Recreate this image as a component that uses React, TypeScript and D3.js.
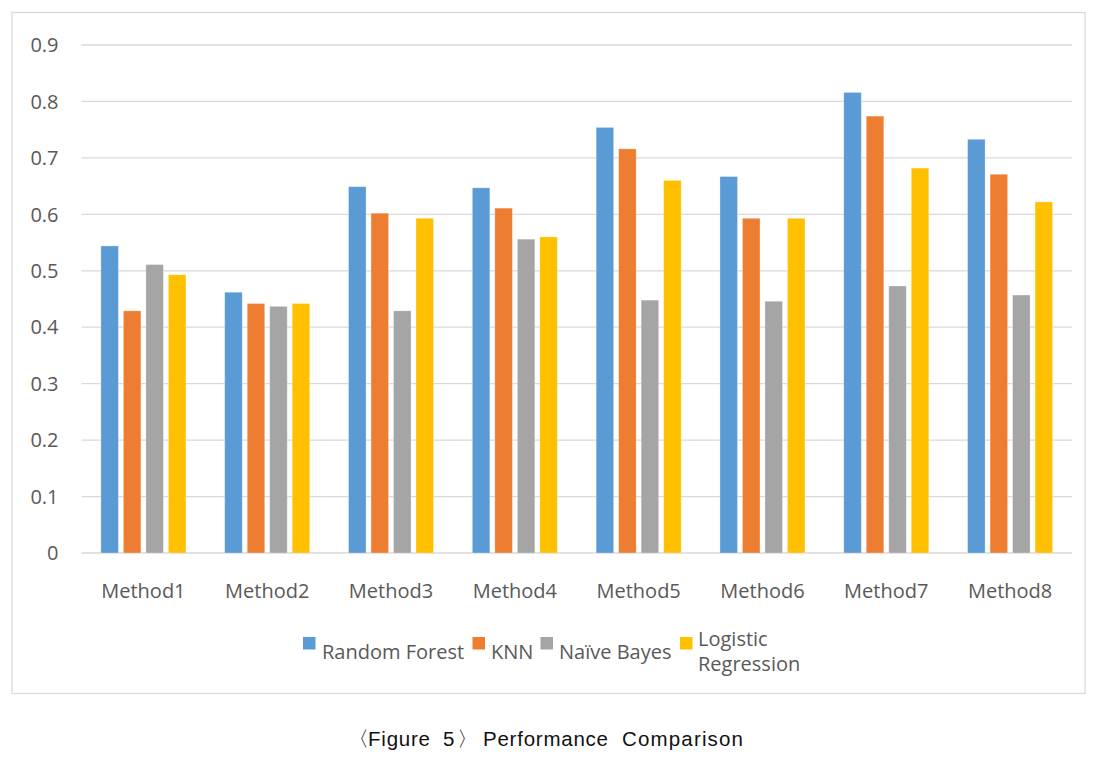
import React from "react";
import * as d3 from "d3";

const categories = ["Method1", "Method2", "Method3", "Method4", "Method5", "Method6", "Method7", "Method8"];
const seriesNames = ["Random Forest", "KNN", "Naïve Bayes", "Logistic Regression"];
const randomForest = [0.544, 0.462, 0.649, 0.647, 0.754, 0.667, 0.816, 0.733];
const knn = [0.429, 0.442, 0.602, 0.611, 0.716, 0.593, 0.774, 0.671];
const naiveBayes = [0.511, 0.437, 0.429, 0.556, 0.448, 0.446, 0.473, 0.457];
const logistic = [0.493, 0.442, 0.593, 0.560, 0.660, 0.593, 0.682, 0.622];
const yTicks = [0, 0.1, 0.2, 0.3, 0.4, 0.5, 0.6, 0.7, 0.8, 0.9];
const colors = ["#5B9BD5", "#ED7D31", "#A5A5A5", "#FFC000"];

const seriesValues = [randomForest, knn, naiveBayes, logistic];

export default function App() {
  const W = 1100, H = 767;
  const left = 81.5, right = 1072, top = 45, bottom = 553;
  const x0 = d3.scaleBand<string>().domain(categories).range([left, right]).paddingInner(0).paddingOuter(0);
  const bw = x0.bandwidth();
  const groupW = 90;
  const x1 = d3.scaleBand<string>().domain(seriesNames).range([(bw - groupW) / 2, (bw + groupW) / 2]).paddingInner(0.222).paddingOuter(0.111);
  const y = d3.scaleLinear().domain([0, 0.9]).range([bottom, top]);
  const font = "'Open Sans', 'Noto Sans', sans-serif";
  const txt = "#595959";
  const capFont = "'Liberation Sans', Arial, sans-serif";

  const legendItems = [
    { sq: 303, tx: 322, lines: ["Random Forest"] },
    { sq: 472.5, tx: 491, lines: ["KNN"] },
    { sq: 540.5, tx: 559, lines: ["Naïve Bayes"] },
    { sq: 680, tx: 698, lines: ["Logistic", "Regression"] },
  ];

  return (
    <svg width={W} height={H} style={{ position: "absolute", left: 0, top: 0, background: "#fff" }}>
      <rect x={0} y={0} width={W} height={H} fill="#fff" />
      <rect x={12} y={12.5} width={1073} height={681} fill="#fff" stroke="#D9D9D9" strokeWidth={1.3} />
      {yTicks.map((t) => (
        <g key={t}>
          <line x1={left} x2={right} y1={y(t)} y2={y(t)} stroke="#D9D9D9" strokeWidth={1.3} />
          <text x={58.5} y={y(t)} dy="0.36em" textAnchor="end" fontFamily={font} fontSize={20} fill={txt}>
            {t === 0 ? "0" : d3.format(".1f")(t)}
          </text>
        </g>
      ))}
      {categories.map((c, i) => (
        <g key={c} transform={`translate(${x0(c)},0)`}>
          {seriesNames.map((s, j) => {
            const v = seriesValues[j][i];
            return (
              <rect key={s} x={x1(s)} y={y(v)} width={x1.bandwidth()} height={y(0) - y(v)} fill={colors[j]} stroke="#fff" strokeOpacity={0.35} strokeWidth={0.8} />
            );
          })}
          <text x={bw / 2} y={597.5} textAnchor="middle" fontFamily={font} fontSize={20} fill={txt}>{c}</text>
        </g>
      ))}
      {legendItems.map((it, j) => (
        <g key={j}>
          <rect x={it.sq} y={637} width={12.5} height={12.5} fill={colors[j]} />
          {it.lines.length === 1 ? (
            <text x={it.tx} y={659} fontFamily={font} fontSize={20} fill={txt}>{seriesNames[j]}</text>
          ) : (
            <text fontFamily={font} fontSize={20} fill={txt}>
              <tspan x={it.tx} y={646}>{it.lines[0]}</tspan>
              <tspan x={it.tx} y={671}>{it.lines[1]}</tspan>
            </text>
          )}
        </g>
      ))}
      <text y={746} fontFamily={capFont} fontSize={20.5} fill="#111">
        <tspan x={348}>〈</tspan>
        <tspan x={368} textLength={62} lengthAdjust="spacing">Figure</tspan>
        <tspan x={443}>5</tspan>
        <tspan x={457}>〉</tspan>
        <tspan x={483} textLength={125} lengthAdjust="spacing">Performance</tspan>
        <tspan x={622} textLength={121} lengthAdjust="spacing">Comparison</tspan>
      </text>
    </svg>
  );
}
